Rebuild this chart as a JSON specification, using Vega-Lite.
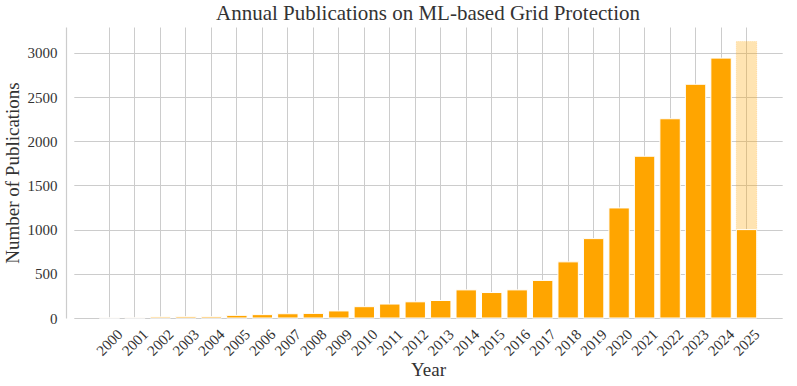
{
  "$schema": "https://vega.github.io/schema/vega-lite/v6.json",
  "autosize": {"type": "none"},
  "width": 724,
  "height": 291,
  "padding": {"left": 66, "top": 27, "right": 7, "bottom": 68},
  "background": "white",
  "config": {
    "font": "Liberation Serif",
    "view": {"stroke": null},
    "axis": {
      "labelFont": "Liberation Serif",
      "titleFont": "Liberation Serif",
      "labelColor": "#333333",
      "titleColor": "#333333",
      "labelFontSize": 15,
      "titleFontSize": 19,
      "titleFontWeight": "normal",
      "gridColor": "#cccccc",
      "gridWidth": 1,
      "domainColor": "#cccccc",
      "domainWidth": 1.2,
      "ticks": false
    }
  },
  "title": {
    "text": "Annual Publications on ML-based Grid Protection",
    "font": "Liberation Serif",
    "fontSize": 21,
    "fontWeight": "normal",
    "color": "#333333",
    "anchor": "middle",
    "offset": 3
  },
  "data": {
    "values": [
      {"year": "2000", "count": 1, "projected": null},
      {"year": "2001", "count": 2, "projected": null},
      {"year": "2002", "count": 12, "projected": null},
      {"year": "2003", "count": 15, "projected": null},
      {"year": "2004", "count": 15, "projected": null},
      {"year": "2005", "count": 30, "projected": null},
      {"year": "2006", "count": 38, "projected": null},
      {"year": "2007", "count": 48, "projected": null},
      {"year": "2008", "count": 52, "projected": null},
      {"year": "2009", "count": 80, "projected": null},
      {"year": "2010", "count": 128, "projected": null},
      {"year": "2011", "count": 158, "projected": null},
      {"year": "2012", "count": 183, "projected": null},
      {"year": "2013", "count": 198, "projected": null},
      {"year": "2014", "count": 318, "projected": null},
      {"year": "2015", "count": 288, "projected": null},
      {"year": "2016", "count": 318, "projected": null},
      {"year": "2017", "count": 425, "projected": null},
      {"year": "2018", "count": 635, "projected": null},
      {"year": "2019", "count": 898, "projected": null},
      {"year": "2020", "count": 1245, "projected": null},
      {"year": "2021", "count": 1830, "projected": null},
      {"year": "2022", "count": 2254, "projected": null},
      {"year": "2023", "count": 2644, "projected": null},
      {"year": "2024", "count": 2940, "projected": null},
      {"year": "2025", "count": 1000, "projected": 3128}
    ]
  },
  "encoding": {
    "x": {
      "field": "year",
      "type": "ordinal",
      "title": "Year",
      "scale": {"paddingInner": 0.2, "paddingOuter": 1, "range": [7.8, 716.2]},
      "axis": {
        "labelFont": "Liberation Serif",
        "labelAngle": -45,
        "labelAlign": "center",
        "labelBaseline": "middle",
        "labelPadding": 24,
        "bandPosition": 0.5,
        "grid": true,
        "domain": false,
        "titlePadding": 2
      }
    }
  },
  "layer": [
    {
      "transform": [{"filter": "datum.projected != null"}],
      "mark": {"type": "bar", "color": "#FFA500", "fillOpacity": 0.3, "stroke": "#FFA500", "strokeOpacity": 0.25, "strokeDash": [1, 1], "strokeWidth": 1},
      "encoding": {
        "y": {"field": "projected", "type": "quantitative"}
      }
    },
    {
      "mark": {"type": "bar", "color": "#FFA500", "stroke": "white", "strokeWidth": 1},
      "encoding": {
        "y": {
          "field": "count",
          "type": "quantitative",
          "title": "Number of Publications",
          "scale": {"domain": [0, 3292], "nice": false},
          "axis": {"values": [0, 500, 1000, 1500, 2000, 2500, 3000], "format": "d", "labelFont": "Liberation Serif", "labelPadding": 9, "titlePadding": 5, "grid": true}
        }
      }
    }
  ]
}
